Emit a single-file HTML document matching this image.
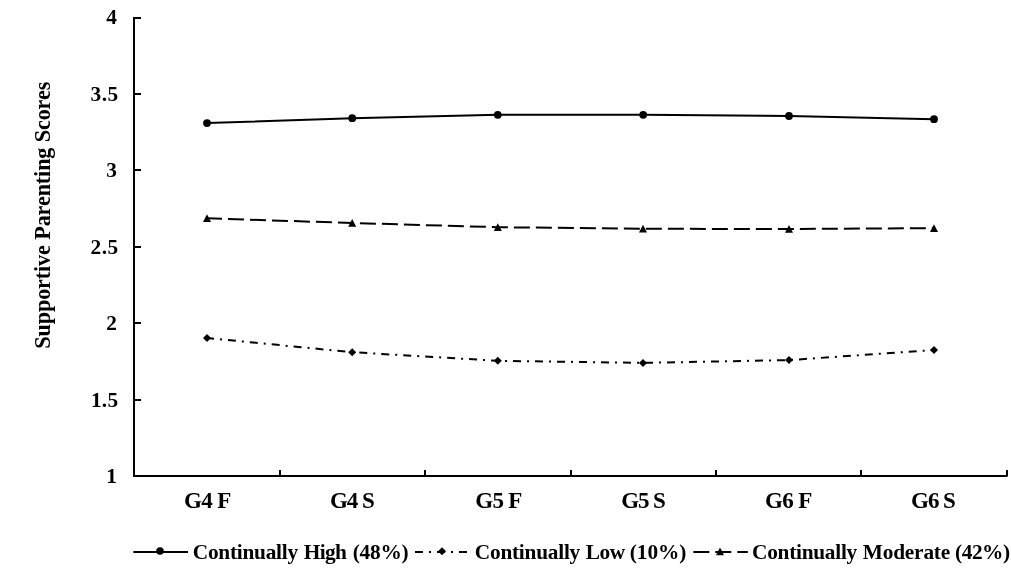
<!DOCTYPE html>
<html lang="en">
<head>
<meta charset="utf-8">
<title>Supportive Parenting Scores</title>
<style>
html,body{margin:0;padding:0;background:#fff;}
body{width:1011px;height:583px;overflow:hidden;}
svg{display:block;}
text{font-family:"Liberation Serif","Times New Roman",serif;font-weight:bold;font-size:21.33px;fill:#000;}
.xl text{font-size:23.04px;}
</style>
</head>
<body>
<svg width="1011" height="583" viewBox="0 0 1011 583">
<rect x="0" y="0" width="1011" height="583" fill="#fff"/>

<!-- axes -->
<g stroke="#000" stroke-width="2" fill="none">
  <line x1="134" y1="17" x2="134" y2="477"/>
  <line x1="133" y1="476" x2="1007.6" y2="476"/>
  <!-- y ticks -->
  <line x1="134" y1="18" x2="141" y2="18"/>
  <line x1="134" y1="94" x2="141" y2="94"/>
  <line x1="134" y1="170" x2="141" y2="170"/>
  <line x1="134" y1="247" x2="141" y2="247"/>
  <line x1="134" y1="323" x2="141" y2="323"/>
  <line x1="134" y1="400" x2="141" y2="400"/>
  <!-- x ticks -->
  <line x1="280" y1="470" x2="280" y2="476"/>
  <line x1="425" y1="470" x2="425" y2="476"/>
  <line x1="571" y1="470" x2="571" y2="476"/>
  <line x1="716" y1="470" x2="716" y2="476"/>
  <line x1="861" y1="470" x2="861" y2="476"/>
  <line x1="1007" y1="470" x2="1007" y2="476"/>
</g>

<!-- y labels -->
<g text-anchor="end">
  <text x="116.8" y="24.2">4</text>
  <text x="118.1" y="101.3" textLength="27.6" lengthAdjust="spacing">3.5</text>
  <text x="116.8" y="176.9">3</text>
  <text x="118.1" y="254.2" textLength="27.6" lengthAdjust="spacing">2.5</text>
  <text x="116.8" y="329.5">2</text>
  <text x="118.1" y="406.9" textLength="27.2" lengthAdjust="spacing">1.5</text>
  <text x="116.8" y="483.1">1</text>
</g>

<!-- x labels -->
<g text-anchor="middle" class="xl">
  <text x="207.7" y="507.9" textLength="47.2" lengthAdjust="spacing">G4 F</text>
  <text x="352.4" y="507.9" textLength="45.0" lengthAdjust="spacing">G4 S</text>
  <text x="498.9" y="507.9" textLength="47.1" lengthAdjust="spacing">G5 F</text>
  <text x="643.5" y="507.9" textLength="44.7" lengthAdjust="spacing">G5 S</text>
  <text x="788.65" y="507.9" textLength="47.4" lengthAdjust="spacing">G6 F</text>
  <text x="933.45" y="507.9" textLength="44.75" lengthAdjust="spacing">G6 S</text>
</g>

<!-- y title -->
<text transform="translate(49.6,348.7) rotate(-90)" style="font-size:22.2px" textLength="267" lengthAdjust="spacing">Supportive Parenting Scores</text>

<!-- series: High -->
<polyline fill="none" stroke="#000" stroke-width="2" stroke-linejoin="round" points="207,123.1 352.2,118.2 497.8,114.8 643.2,114.8 789,116 934,119.2"/>
<g fill="#000">
  <circle cx="207" cy="123.1" r="3.9"/><circle cx="352.2" cy="118.2" r="3.9"/><circle cx="497.8" cy="114.8" r="3.9"/>
  <circle cx="643.2" cy="114.8" r="3.9"/><circle cx="789" cy="116" r="3.9"/><circle cx="934" cy="119.2" r="3.9"/>
</g>

<!-- series: Moderate -->
<polyline fill="none" stroke="#000" stroke-width="2" stroke-dasharray="16 6" stroke-dashoffset="1" points="207,218.3 352.2,223 497.8,227.2 643,228.8 789,229 934,228.2"/>
<g fill="#000">
  <path d="M207,214.3 l4,7.7 h-8z"/>
  <path d="M352.2,219 l4,7.7 h-8z"/>
  <path d="M497.8,223.2 l4,7.7 h-8z"/>
  <path d="M643,224.8 l4,7.7 h-8z"/>
  <path d="M789,225 l4,7.7 h-8z"/>
  <path d="M934,224.2 l4,7.7 h-8z"/>
</g>

<!-- series: Low -->
<polyline fill="none" stroke="#000" stroke-width="2" stroke-dasharray="8 6 2 6" stroke-dashoffset="1" points="207,338 352.2,352.2 497.8,360.8 643,362.9 789,360.1 934,350"/>
<g fill="#000">
  <path d="M207,334 l4,4 l-4,4 l-4,-4z"/>
  <path d="M352.2,348.2 l4,4 l-4,4 l-4,-4z"/>
  <path d="M497.8,356.8 l4,4 l-4,4 l-4,-4z"/>
  <path d="M643,358.9 l4,4 l-4,4 l-4,-4z"/>
  <path d="M789,356.1 l4,4 l-4,4 l-4,-4z"/>
  <path d="M934,346 l4,4 l-4,4 l-4,-4z"/>
</g>

<!-- legend -->
<g>
  <line x1="133.3" y1="551.95" x2="188" y2="551.95" stroke="#000" stroke-width="2"/>
  <circle cx="160" cy="550.95" r="3.8"/>
  <text y="558.7"><tspan x="192.8" style="letter-spacing:-0.26px">Continually</tspan> <tspan x="303.7" style="letter-spacing:-0.65px">High</tspan> <tspan x="352.7" style="letter-spacing:-0.22px">(48%)</tspan></text>

  <line x1="415" y1="551.95" x2="469.7" y2="551.95" stroke="#000" stroke-width="2" stroke-dasharray="8 6 2 6"/>
  <path d="M442,547.3 l4,4 l-4,4 l-4,-4z"/>
  <text y="558.7"><tspan x="474.8" style="letter-spacing:-0.24px">Continually</tspan> <tspan x="585.8" style="letter-spacing:-0.51px">Low</tspan> <tspan x="629.8" style="letter-spacing:-0.07px">(10%)</tspan></text>

  <line x1="693.3" y1="551.95" x2="747.8" y2="551.95" stroke="#000" stroke-width="2" stroke-dasharray="16 6"/>
  <path d="M720,547.6 l4,7.6 h-8z"/>
  <text y="558.7"><tspan x="752.0" style="letter-spacing:-0.26px">Continually</tspan> <tspan x="862.8" style="letter-spacing:-0.20px">Moderate</tspan> <tspan x="955.1" style="letter-spacing:-0.47px">(42%)</tspan></text>
</g>
</svg>
</body>
</html>
